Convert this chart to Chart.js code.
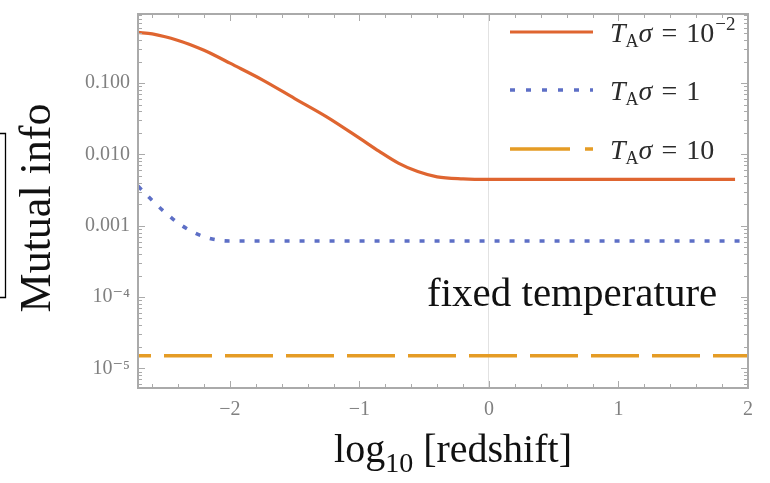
<!DOCTYPE html>
<html>
<head>
<meta charset="utf-8">
<script src="https://cdn.jsdelivr.net/npm/chart.js@4.4.1/dist/chart.umd.min.js"></script>
<style>
  html, body { margin: 0; padding: 0; background: #fff; }
  #wrap { position: relative; width: 770px; height: 483px; }
</style>
</head>
<body>
<div id="wrap"><canvas id="chart" width="770" height="483"></canvas></div>
<script>
// x = log10 of redshift, shared by the three curves
const logRedshift = [-2.71, -2.6, -2.5, -2.4, -2.3, -2.2, -2.1, -2.0, -1.75, -1.5, -1.25, -1.0, -0.85, -0.7, -0.55, -0.4, -0.2, 0, 0.5, 1.0, 1.5, 1.9, 2.0];
// mutual info for T_A sigma = 1e-2, 1, 10
const infoLowT  = [0.515, 0.489, 0.446, 0.395, 0.343, 0.288, 0.236, 0.19, 0.111, 0.0607, 0.0334, 0.0169, 0.0111, 0.00755, 0.00574, 0.00484, 0.00454, 0.00446, 0.00445, 0.00445, 0.00445, 0.00445, null];
const infoMidT  = [0.0036, 0.00225, 0.00153, 0.00109, 0.00084, 0.0007, 0.00063, 0.00061, 0.00061, 0.00061, 0.00061, 0.00061, 0.00061, 0.00061, 0.00061, 0.00061, 0.00061, 0.00061, 0.00061, 0.00061, 0.00061, 0.00061, 0.00061];
const infoHighT = [1.5e-5, 1.5e-5, 1.5e-5, 1.5e-5, 1.5e-5, 1.5e-5, 1.5e-5, 1.5e-5, 1.5e-5, 1.5e-5, 1.5e-5, 1.5e-5, 1.5e-5, 1.5e-5, 1.5e-5, 1.5e-5, 1.5e-5, 1.5e-5, 1.5e-5, 1.5e-5, 1.5e-5, 1.5e-5, 1.5e-5];

const seriesLabels = ['T_A σ = 10^-2', 'T_A σ = 1', 'T_A σ = 10'];
const legendValues = ['10', '1', '10'];
const legendExps = ['−2', '', ''];

const xTickValues = [-2, -1, 0, 1, 2];
const xTickLabels = ['−2', '−1', '0', '1', '2'];
const yTickValues = [1e-5, 1e-4, 1e-3, 1e-2, 1e-1];
const yTickLabels = ['10⁻⁵', '10⁻⁴', '0.001', '0.010', '0.100'];

const SERIF = '"Liberation Serif", "DejaVu Serif", serif';
const toPoints = vals => logRedshift.map((x, i) => ({ x: x, y: vals[i] }));

function drawRich(ctx, x, y, parts) {
    for (const p of parts) {
        ctx.font = p.font;
        ctx.fillText(p.text, x, y + (p.dy || 0));
        x += ctx.measureText(p.text).width + (p.gap || 0);
    }
    return x;
}

const framePlugin = {
    id: 'frame',
    afterDatasetsDraw(chart) {
        const { ctx, chartArea: a, scales: { x, y } } = chart;
        ctx.save();
        ctx.strokeStyle = '#aaaaaa';
        ctx.lineWidth = 1;
        const seg = (x1, y1, x2, y2) => { ctx.beginPath(); ctx.moveTo(x1, y1); ctx.lineTo(x2, y2); ctx.stroke(); };
        // inward ticks, left and right
        for (let e = -6; e <= 0; e++) {
            for (let k = 1; k <= 9; k++) {
                const v = k * Math.pow(10, e);
                if (v < y.min || v > y.max) continue;
                const py = Math.round(y.getPixelForValue(v)) + 0.5;
                const len = k === 1 ? 7 : 4;
                seg(a.left, py, a.left + len, py);
                seg(a.right, py, a.right - len, py);
            }
        }
        // inward ticks, top and bottom
        for (let i = -14; i <= 10; i++) {
            const v = i * 0.2;
            if (v < x.min || v > x.max + 1e-9) continue;
            const px = Math.round(x.getPixelForValue(v)) + 0.5;
            const len = i % 5 === 0 ? 7 : 4;
            seg(px, a.bottom, px, a.bottom - len);
            seg(px, a.top, px, a.top + len);
        }
        ctx.lineWidth = 2;
        ctx.strokeRect(a.left, a.top, a.right - a.left, a.bottom - a.top);
        ctx.restore();
    },
    afterDraw(chart) {
        const { ctx } = chart;
        ctx.save();

        // legend
        const rows = [32, 90, 149];
        const dashes = [[], [5, 11], [60, 15]];
        chart.data.datasets.forEach((ds, i) => {
            ctx.beginPath();
            ctx.setLineDash(dashes[i]);
            ctx.strokeStyle = ds.borderColor;
            ctx.lineWidth = ds.borderWidth;
            ctx.moveTo(510, rows[i]);
            ctx.lineTo(593, rows[i]);
            ctx.stroke();
            ctx.setLineDash([]);
            ctx.fillStyle = '#2b2b2b';
            ctx.textAlign = 'left';
            ctx.textBaseline = 'alphabetic';
            const parts = [
                { text: 'T', font: 'italic 28px ' + SERIF, gap: 0 },
                { text: 'A', font: '18px ' + SERIF, dy: 5 },
                { text: 'σ', font: 'italic 28px ' + SERIF, gap: 9 },
                { text: '=', font: '28px ' + SERIF, gap: 9 },
                { text: legendValues[i], font: '28px ' + SERIF, gap: 1 }
            ];
            if (legendExps[i]) parts.push({ text: legendExps[i], font: '19px ' + SERIF, dy: -12 });
            drawRich(ctx, 610, rows[i] + 10, parts);
        });

        // annotation
        ctx.fillStyle = '#111';
        ctx.font = '41px ' + SERIF;
        ctx.fillText('fixed temperature', 427, 306);

        // x title
        const xParts = [
            { text: 'log', font: '40px ' + SERIF },
            { text: '10', font: '28px ' + SERIF, dy: 10 },
            { text: ' [redshift]', font: '40px ' + SERIF }
        ];
        let w = 0;
        xParts.forEach(p => { ctx.font = p.font; w += ctx.measureText(p.text).width; });
        drawRich(ctx, 453 - w / 2, 462, xParts);

        // y title
        ctx.save();
        ctx.translate(50, 208);
        ctx.rotate(-Math.PI / 2);
        ctx.textAlign = 'center';
        ctx.font = '44px ' + SERIF;
        ctx.fillText('Mutual info', 0, 0);
        ctx.restore();

        // cropped bracket at the left edge
        ctx.strokeStyle = '#000';
        ctx.lineWidth = 1.3;
        ctx.beginPath();
        ctx.moveTo(0, 133.5);
        ctx.lineTo(5.5, 133.5);
        ctx.lineTo(5.5, 297.5);
        ctx.lineTo(0, 297.5);
        ctx.stroke();
        ctx.restore();
    }
};

new Chart(document.getElementById('chart'), {
    type: 'line',
    data: {
        datasets: [
            {
                label: seriesLabels[0],
                data: toPoints(infoLowT),
                borderColor: '#df6530',
                borderWidth: 3.2,
                pointRadius: 0,
                cubicInterpolationMode: 'monotone'
            },
            {
                label: seriesLabels[1],
                data: toPoints(infoMidT),
                borderColor: '#5d6fc6',
                borderWidth: 3.6,
                borderDash: [5, 10],
                pointRadius: 0,
                cubicInterpolationMode: 'monotone'
            },
            {
                label: seriesLabels[2],
                data: toPoints(infoHighT),
                borderColor: '#e59c25',
                borderWidth: 3.6,
                borderDash: [48, 13],
                borderDashOffset: 35,
                pointRadius: 0
            }
        ]
    },
    options: {
        responsive: false,
        devicePixelRatio: 1,
        animation: false,
        layout: { padding: { top: 14, right: 22, left: 0, bottom: 0 } },
        plugins: { legend: { display: false }, tooltip: { enabled: false } },
        scales: {
            x: {
                type: 'linear',
                min: -2.71,
                max: 2.0,
                afterBuildTicks: s => { s.ticks = xTickValues.map(v => ({ value: v })); },
                afterFit: s => { s.height = 95; s.paddingLeft = 0; s.paddingRight = 0; },
                ticks: {
                    autoSkip: false,
                    maxRotation: 0,
                    padding: 10,
                    color: '#808080',
                    font: { family: SERIF, size: 20 },
                    callback: (v, i) => xTickLabels[i]
                },
                grid: {
                    drawTicks: false,
                    lineWidth: 1,
                    color: c => (c.tick && c.tick.value === 0 ? '#e2e2e2' : 'rgba(0,0,0,0)')
                },
                border: { display: false }
            },
            y: {
                type: 'logarithmic',
                min: 5.3e-6,
                max: 0.93,
                afterBuildTicks: s => { s.ticks = yTickValues.map(v => ({ value: v })); },
                afterFit: s => { s.width = 138; s.paddingTop = 0; s.paddingBottom = 0; },
                ticks: {
                    autoSkip: false,
                    padding: 8,
                    color: '#808080',
                    font: { family: SERIF, size: 20 },
                    callback: (v, i) => yTickLabels[i]
                },
                grid: { display: false, drawTicks: false },
                border: { display: false }
            }
        }
    },
    plugins: [framePlugin]
});
</script>
</body>
</html>
